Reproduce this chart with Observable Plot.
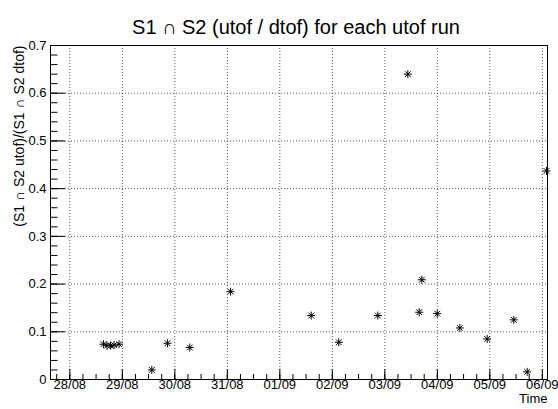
<!DOCTYPE html>
<html><head><meta charset="utf-8">
<script src="https://cdn.jsdelivr.net/npm/d3@7"></script>
<script src="https://cdn.jsdelivr.net/npm/@observablehq/plot@0.6"></script>
<style>
body{margin:0;background:#fff}
svg{font-family:"Liberation Sans",Arial,Helvetica,sans-serif}
</style>
</head><body><div id="chart"></div>
<script>
// ---- data ----
const runTimes = [
  "2023-08-28T15:24Z","2023-08-28T17:00Z","2023-08-28T18:36Z","2023-08-28T20:12Z","2023-08-28T22:30Z",
  "2023-08-29T13:29Z","2023-08-29T20:40Z","2023-08-30T06:51Z","2023-08-31T01:28Z",
  "2023-09-01T14:21Z","2023-09-02T02:58Z","2023-09-02T20:48Z",
  "2023-09-03T10:31Z","2023-09-03T15:43Z","2023-09-03T16:55Z","2023-09-03T23:57Z",
  "2023-09-04T10:17Z","2023-09-04T22:48Z","2023-09-05T10:58Z","2023-09-05T17:05Z","2023-09-06T01:55Z"
];
const ratios = [
  0.074, 0.071, 0.071, 0.072, 0.074,
  0.020, 0.076, 0.067, 0.184,
  0.134, 0.078, 0.134,
  0.640, 0.141, 0.209, 0.138,
  0.108, 0.085, 0.125, 0.016, 0.437
];
const dayTicks = ["2023-08-28","2023-08-29","2023-08-30","2023-08-31","2023-09-01",
                  "2023-09-02","2023-09-03","2023-09-04","2023-09-05","2023-09-06"];
const dayTickLabels = ["28/08","29/08","30/08","31/08","01/09","02/09","03/09","04/09","05/09","06/09"];
const yTicks = [0, 0.1, 0.2, 0.3, 0.4, 0.5, 0.6, 0.7];
const yTickLabels = ["0","0.1","0.2","0.3","0.4","0.5","0.6","0.7"];
const titleText = "S1 \u2229 S2 (utof / dtof) for each utof run";
const yLabel = "(S1 \u2229 S2 utof)/(S1 \u2229 S2 dtof)";
const xLabel = "Time";
const xDomain = ["2023-08-27T15:10Z", "2023-09-06T02:22Z"];
const yDomain = [0, 0.7];

// ---- build ----
const W = 558, H = 409, ML = 50, MR = 11, MT = 45, MB = 30;
const points = runTimes.map((t, i) => ({t: new Date(t), v: ratios[i]}));
const days = dayTicks.map((d, i) => ({t: new Date(d + "T00:00Z"), label: dayTickLabels[i]}));
const yt = yTicks.map((v, i) => ({v, label: yTickLabels[i]}));
const x0 = new Date(xDomain[0]), x1 = new Date(xDomain[1]);
const msPerPx = (x1 - x0) / (W - ML - MR);
const yPerPx = (yDomain[1] - yDomain[0]) / (H - MT - MB);
const xMinor = d3.utcHour.every(6).range(x0, x1);
const yMinor = d3.range(0, 0.7001, 0.02);
const xShift = px => new Date(+x0 + px * msPerPx);

const chart = Plot.plot({
  width: W, height: H,
  marginLeft: ML, marginRight: MR, marginTop: MT, marginBottom: MB,
  x: {type: "utc", domain: [x0, x1], axis: null},
  y: {domain: yDomain, axis: null},
  style: {background: "#fff", color: "#000"},
  marks: [
    // grid
    Plot.ruleX(days, {x: "t", stroke: "#000", strokeOpacity: 0.65, strokeDasharray: "1,2"}),
    Plot.ruleY(yt, {y: "v", stroke: "#000", strokeOpacity: 0.65, strokeDasharray: "1,2"}),
    // x ticks
    Plot.ruleX(xMinor, {x: d => d, y1: 0, y2: 5 * yPerPx, stroke: "#000"}),
    Plot.ruleX(days, {x: "t", y1: 0, y2: 10 * yPerPx, stroke: "#000"}),
    // y ticks
    Plot.ruleY(yMinor, {y: d => d, x1: x0, x2: xShift(7.5), stroke: "#000"}),
    Plot.ruleY(yt, {y: "v", x1: x0, x2: xShift(15), stroke: "#000"}),
    // tick labels
    Plot.text(days, {x: "t", text: "label", frameAnchor: "bottom", dy: 9, fontSize: 13}),
    Plot.text(yt, {y: "v", text: "label", frameAnchor: "left", dx: -4, textAnchor: "end", fontSize: 13}),
    // titles
    Plot.text([titleText], {text: d => d, frameAnchor: "top", dy: -26, dx: -3, fontSize: 20}),
    Plot.text([yLabel], {text: d => d, frameAnchor: "top-left", rotate: -90, textAnchor: "end", dx: -36, fontSize: 14}),
    Plot.text([xLabel], {text: d => d, frameAnchor: "bottom-right", textAnchor: "end", dy: 23, fontSize: 13}),
    // data markers (ROOT-style asterisk)
    Plot.dot(points, {x: "t", y: "v", symbol: "plus", r: 2.7, stroke: "#000", strokeWidth: 1}),
    Plot.dot(points, {x: "t", y: "v", symbol: "times", r: 2.7, stroke: "#000", strokeWidth: 1}),
    Plot.frame({stroke: "#000"})
  ]
});
document.getElementById("chart").appendChild(chart);
</script>
</body></html>
